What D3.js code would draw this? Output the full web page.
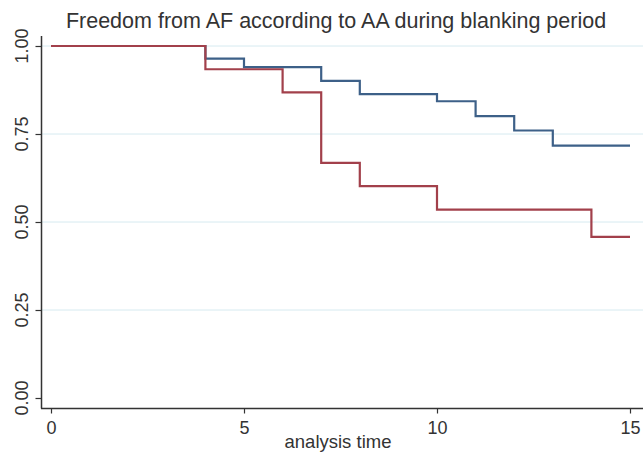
<!DOCTYPE html>
<html><head><meta charset="utf-8">
<script src="https://cdn.jsdelivr.net/npm/d3@7/dist/d3.min.js"></script>
<style>body{margin:0;background:#fff;} svg{display:block;font-family:"Liberation Sans",Arial,sans-serif;}</style>
</head><body>
<script>
const title = "Freedom from AF according to AA during blanking period";
const xLabel = "analysis time";
const xTicks = [0, 5, 10, 15];
const yTicks = [0, 0.25, 0.5, 0.75, 1];
const gridValues = [0.25, 0.5, 0.75, 1];
// step survival curves: times at which value starts
const blueTimes = [0, 4, 5, 7, 8, 10, 11, 12, 13, 15];
const blueValues = [1.0, 0.964, 0.940, 0.901, 0.863, 0.843, 0.801, 0.760, 0.717, 0.717];
const redTimes = [0, 4, 6, 7, 8, 10, 14, 15];
const redValues = [1.0, 0.934, 0.868, 0.668, 0.602, 0.535, 0.458, 0.458];

const W = 643, H = 452;
const svg = d3.select("body").append("svg").attr("width", W).attr("height", H);
const x = d3.scaleLinear().domain([0, 15]).range([51, 630]);
const y = d3.scaleLinear().domain([0, 1]).range([398, 46]);

// grid
svg.append("g").selectAll("line").data(gridValues).join("line")
  .attr("x1", 41).attr("x2", 643)
  .attr("y1", d => y(d)).attr("y2", d => y(d))
  .attr("stroke", "#d6eaf0").attr("stroke-width", 1);

// axes
const xAxis = svg.append("g").attr("transform", "translate(0,408.5)")
  .call(d3.axisBottom(x).tickValues(xTicks).tickFormat(d3.format("d")).tickSize(5).tickSizeOuter(0));
xAxis.select(".domain").attr("d", "M41,0H643");
const yAxis = svg.append("g").attr("transform", "translate(41.5,0)")
  .call(d3.axisLeft(y).tickValues(yTicks).tickFormat(d3.format(".2f")).tickSize(6).tickSizeOuter(0));
yAxis.select(".domain").attr("d", "M0,36V408.5");
[xAxis, yAxis].forEach(a => {
  a.selectAll(".domain").attr("stroke", "#333").attr("stroke-width", 1.5);
  a.selectAll(".tick line").attr("stroke", "#333").attr("stroke-width", 1.2);
  a.selectAll("text").attr("fill", "#333").attr("font-size", 18);
});
xAxis.selectAll("text").attr("dy", "0.95em");
yAxis.selectAll(".tick").each(function(d){
  const t = d3.select(this);
  const ty = y(d);
  t.attr("transform", null);
  t.select("line").attr("y1", ty + 0.5).attr("y2", ty + 0.5);
  t.select("text").attr("transform", `translate(${-14},${ty}) rotate(-90)`)
    .attr("x", 0).attr("y", 0).attr("dy", 0).attr("text-anchor", "middle");
});

const line = d3.line().x(d => x(d[0])).y(d => y(d[1])).curve(d3.curveStepAfter);
svg.append("path").datum(blueTimes.map((t, i) => [t, blueValues[i]]))
  .attr("d", line).attr("fill", "none").attr("stroke", "#3d6088").attr("stroke-width", 2.2);
svg.append("path").datum(redTimes.map((t, i) => [t, redValues[i]]))
  .attr("d", line).attr("fill", "none").attr("stroke", "#a2404b").attr("stroke-width", 2.2);

svg.append("text").attr("x", 336).attr("y", 28).attr("text-anchor", "middle")
  .attr("font-size", 21.5).attr("fill", "#333").text(title);
svg.append("text").attr("x", 338).attr("y", 448).attr("text-anchor", "middle")
  .attr("font-size", 18.5).attr("fill", "#333").text(xLabel);
</script>
</body></html>
